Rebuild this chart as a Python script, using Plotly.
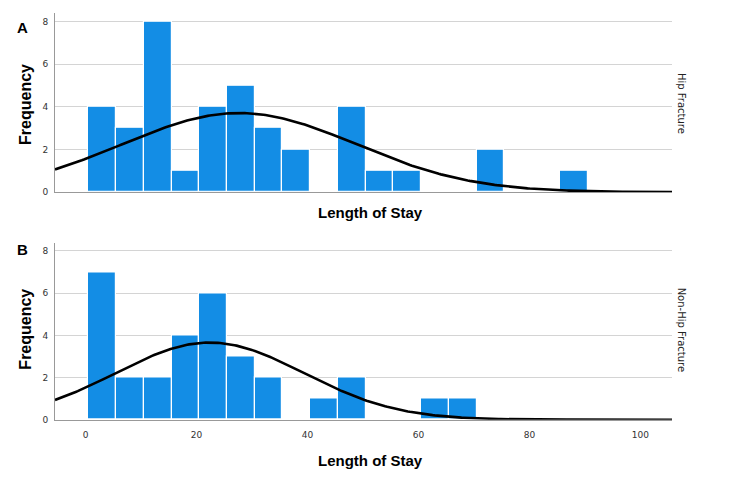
import numpy as np
import plotly.graph_objects as go

# Histogram bins (width 5 days), centers
bin_centers = [3, 8, 13, 18, 23, 28, 33, 38, 43, 48, 53, 58, 63, 68, 73, 78, 83, 88]
hip_counts = [4, 3, 8, 1, 4, 5, 3, 2, 0, 4, 1, 1, 0, 0, 2, 0, 0, 1]
nonhip_counts = [7, 2, 2, 4, 6, 3, 2, 0, 1, 2, 0, 0, 1, 1, 0, 0, 0, 0]
bin_width = 5

# Normal curve parameters
hip_mean, hip_sd, hip_n = 27.7, 21.0, 39
nonhip_mean, nonhip_sd, nonhip_n = 22.4, 16.9, 31

x_ticks = [0, 20, 40, 60, 80, 100]
y_ticks = [0, 2, 4, 6, 8]
x_range = [-5.5, 105.7]

BAR = "#138de5"

def normal_curve(mean, sd, n):
    xs = np.linspace(x_range[0], x_range[1], 300)
    ys = n * bin_width / (sd * np.sqrt(2 * np.pi)) * np.exp(-0.5 * ((xs - mean) / sd) ** 2)
    return xs, ys

fig = go.Figure()
fig.add_trace(go.Bar(x=bin_centers, y=hip_counts, width=bin_width, marker=dict(color=BAR, line=dict(color="white", width=1.2)),
                     xaxis="x", yaxis="y", showlegend=False))
xs, ys = normal_curve(hip_mean, hip_sd, hip_n)
fig.add_trace(go.Scatter(x=xs, y=ys, mode="lines", line=dict(color="black", width=2.6), xaxis="x", yaxis="y", showlegend=False))
fig.add_trace(go.Bar(x=bin_centers, y=nonhip_counts, width=bin_width, marker=dict(color=BAR, line=dict(color="white", width=1.2)),
                     xaxis="x2", yaxis="y2", showlegend=False))
xs, ys = normal_curve(nonhip_mean, nonhip_sd, nonhip_n)
fig.add_trace(go.Scatter(x=xs, y=ys, mode="lines", line=dict(color="black", width=2.6), xaxis="x2", yaxis="y2", showlegend=False))

W, H = 750, 496
xdom = [55 / W, 672 / W]
top_dom = [1 - 194 / H, 1 - 13 / H]
bot_dom = [1 - 424 / H, 1 - 245 / H]

tickfont = dict(family="DejaVu Sans, Arial", size=9, color="#333")
common_y = dict(range=[0, 8.4], tickvals=y_ticks, showgrid=True, gridcolor="#d4d4d4", gridwidth=1.3,
                zeroline=False, showline=True, linecolor="#999", linewidth=1, tickfont=tickfont,
                ticks="", ticklabelstandoff=4, fixedrange=True)
common_x = dict(range=x_range, showgrid=False, zeroline=False, showline=True, linecolor="#999", linewidth=1.2,
                ticks="", tickfont=tickfont, tickvals=x_ticks, ticklabelstandoff=6)

titlefont = dict(family="Liberation Sans, Arial", size=15, color="black")
fig.update_layout(
    width=W, height=H, margin=dict(l=0, r=0, t=0, b=0),
    paper_bgcolor="white", plot_bgcolor="white", bargap=0,
    xaxis=dict(domain=xdom, anchor="y", showticklabels=False, **common_x),
    yaxis=dict(domain=top_dom, anchor="x", **common_y),
    xaxis2=dict(domain=xdom, anchor="y2", showticklabels=True, **common_x),
    yaxis2=dict(domain=bot_dom, anchor="x2", **common_y),
)

def add_text(text, px, py, font, angle=0):
    return dict(text=text, x=px / W, y=1 - py / H, xref="paper", yref="paper", xanchor="center",
                yanchor="middle", textangle=angle, showarrow=False, font=font)

ffont = dict(family="Liberation Sans, Arial", size=16, color="black")
rfont = dict(family="DejaVu Sans, Arial", size=10, color="#222")
ann = [
    add_text("<b>Length of Stay</b>", 370, 215, titlefont),
    add_text("<b>Length of Stay</b>", 370, 465, titlefont),
    add_text("<b>Frequency</b>", 26, 106, ffont, -90),
    add_text("<b>Frequency</b>", 26, 333, ffont, -90),
    add_text("<b>A</b>", 22, 28, dict(family="Liberation Sans, Arial", size=15, color="black")),
    add_text("<b>B</b>", 22, 252, dict(family="Liberation Sans, Arial", size=15, color="black")),
    add_text("Hip Fracture", 681, 104, rfont, 90),
    add_text("Non-Hip Fracture", 681, 333, rfont, 90),
]
fig.update_layout(annotations=ann)

fig.write_html("out.html")
